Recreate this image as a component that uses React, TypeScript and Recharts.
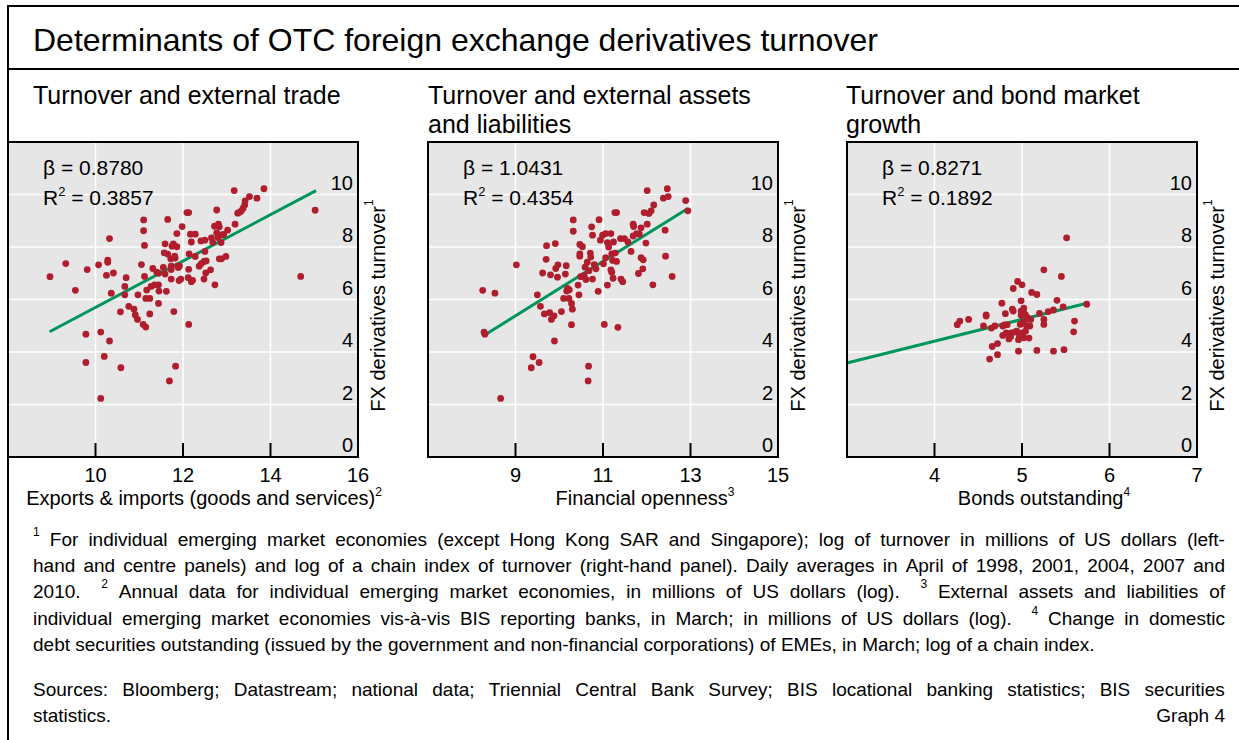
import React from 'react';
import { ScatterChart, Scatter, XAxis, YAxis, CartesianGrid, ReferenceLine, Label } from 'recharts';

const FONT = "'Liberation Sans', Arial, Helvetica, sans-serif";
const GRID_BG = '#e6e6e6';
const DOT = '#b01e2d';
const GREEN = '#00955a';

// ---------- data ----------
const tradeX = [8.96, 9.32, 9.54, 9.81, 9.78, 9.78, 10.07, 10.12, 10.12, 10.2, 10.32, 10.28, 10.28, 10.25, 10.41, 10.32, 10.36, 10.58, 10.57, 10.67, 10.67, 10.7, 10.76, 10.88, 10.91, 10.96, 10.97, 11.05, 11.1, 11.1, 11.12, 11.12, 11.09, 11.15, 11.15, 11.17, 11.24, 11.24, 11.27, 11.31, 11.35, 11.4, 11.44, 11.44, 11.44, 11.45, 11.55, 11.57, 11.59, 11.59, 11.62, 11.65, 11.65, 11.69, 11.72, 11.73, 11.73, 11.73, 11.75, 11.78, 11.79, 11.81, 11.82, 11.83, 11.86, 11.86, 11.88, 11.89, 11.92, 11.91, 11.95, 11.98, 12.09, 12.13, 12.13, 12.12, 12.13, 12.14, 12.17, 12.19, 12.19, 12.22, 12.28, 12.28, 12.37, 12.41, 12.42, 12.48, 12.48, 12.5, 12.5, 12.52, 12.53, 12.63, 12.65, 12.68, 12.72, 12.73, 12.77, 12.77, 12.8, 12.81, 12.83, 12.83, 12.87, 12.88, 12.9, 12.93, 12.98, 13.02, 13.17, 13.19, 13.25, 13.29, 13.33, 13.37, 13.41, 13.42, 13.52, 13.69, 13.85, 14.69, 15.02];
const tradeY = [6.87, 7.37, 6.35, 7.14, 4.68, 3.6, 7.32, 4.76, 2.23, 3.83, 8.32, 7.5, 7.42, 6.92, 7.01, 4.42, 6.24, 3.4, 5.53, 6.5, 6.18, 6.83, 5.74, 5.63, 5.41, 5.24, 6.18, 7.33, 9.03, 8.62, 8.06, 6.88, 5.05, 4.95, 6.04, 6.36, 6.04, 5.45, 6.5, 7.18, 6.56, 7.04, 7.0, 5.85, 6.56, 6.32, 7.22, 7.78, 8.12, 6.97, 6.31, 9.05, 7.73, 2.9, 7.55, 7.27, 6.78, 7.14, 8.03, 8.12, 5.54, 7.65, 7.58, 3.46, 8.51, 8.01, 7.28, 7.22, 7.28, 6.72, 6.78, 8.78, 9.31, 9.31, 7.15, 6.83, 5.05, 7.74, 8.49, 8.19, 6.68, 6.73, 8.49, 7.64, 7.27, 8.23, 7.37, 7.45, 6.78, 7.83, 8.26, 7.01, 7.47, 7.13, 8.35, 8.18, 8.79, 6.56, 9.41, 8.54, 8.36, 8.87, 8.77, 7.55, 8.17, 7.55, 8.47, 8.47, 7.64, 8.64, 10.15, 8.87, 9.29, 9.32, 9.37, 9.47, 9.6, 9.76, 9.92, 9.86, 10.22, 6.88, 9.4];
const tradeFitX = [8.95, 15.04];
const tradeFitY = [4.77, 10.15];

const openX = [8.25, 8.53, 8.28, 8.3, 8.66, 9.02, 9.36, 9.4, 9.54, 9.5, 9.57, 9.62, 9.66, 9.7, 9.71, 9.78, 9.8, 9.82, 9.88, 9.89, 9.91, 9.92, 9.96, 9.97, 10.05, 10.1, 10.14, 10.16, 10.17, 10.19, 10.22, 10.23, 10.28, 10.3, 10.28, 10.32, 10.32, 10.43, 10.45, 10.47, 10.47, 10.47, 10.53, 10.49, 10.57, 10.59, 10.61, 10.64, 10.67, 10.66, 10.68, 10.71, 10.72, 10.74, 10.76, 10.76, 10.8, 10.84, 10.89, 10.91, 10.94, 10.99, 11.01, 11.03, 11.06, 11.06, 11.1, 11.1, 11.13, 11.18, 11.18, 11.2, 11.2, 11.22, 11.24, 11.23, 11.27, 11.31, 11.28, 11.31, 11.34, 11.4, 11.41, 11.45, 11.49, 11.57, 11.64, 11.69, 11.7, 11.69, 11.77, 11.81, 11.83, 11.87, 11.87, 11.91, 11.92, 11.94, 11.98, 12.01, 12.01, 12.05, 12.1, 12.14, 12.16, 12.38, 12.42, 12.43, 12.47, 12.49, 12.58, 12.89, 12.94];
const openY = [6.35, 6.24, 4.76, 4.68, 2.23, 7.32, 3.4, 3.82, 3.6, 6.18, 5.74, 7.01, 5.45, 7.53, 8.05, 5.5, 6.94, 5.24, 5.38, 4.42, 8.13, 7.18, 6.85, 7.32, 5.54, 6.04, 6.97, 7.29, 6.32, 6.42, 6.04, 6.37, 5.85, 5.63, 5.04, 9.03, 8.6, 6.55, 6.18, 7.74, 7.65, 8.1, 8.01, 6.87, 6.91, 7.23, 6.76, 7.42, 3.46, 2.9, 7.1, 7.77, 7.62, 8.77, 8.45, 6.78, 7.33, 7.17, 6.31, 9.04, 8.26, 8.45, 7.36, 5.05, 8.51, 7.59, 6.55, 8.17, 8.0, 8.51, 7.13, 7.04, 7.74, 7.49, 8.19, 6.81, 9.31, 9.31, 7.77, 7.45, 4.94, 8.32, 6.78, 6.68, 8.32, 8.19, 7.83, 8.87, 8.78, 8.42, 8.51, 6.99, 8.49, 8.73, 7.59, 7.17, 7.51, 9.31, 8.15, 10.15, 8.87, 9.28, 9.38, 6.56, 9.6, 9.86, 8.64, 7.65, 10.22, 9.92, 6.88, 9.77, 9.38];
const openFitX = [8.25, 12.94];
const openFitY = [4.6, 9.47];

const bondX = [4.26, 4.29, 4.39, 4.56, 4.59, 4.59, 4.63, 4.65, 4.66, 4.69, 4.72, 4.72, 4.77, 4.78, 4.78, 4.8, 4.81, 4.82, 4.83, 4.85, 4.87, 4.89, 4.9, 4.9, 4.88, 4.92, 4.94, 4.95, 4.96, 4.96, 4.97, 4.98, 4.99, 4.99, 4.99, 5.0, 5.0, 5.01, 5.02, 5.02, 5.02, 5.04, 5.04, 5.05, 5.06, 5.07, 5.08, 5.09, 5.1, 5.11, 5.17, 5.17, 5.2, 5.25, 5.25, 5.25, 5.3, 5.36, 5.36, 5.4, 5.45, 5.47, 5.48, 5.51, 5.6, 5.59, 5.74];
const bondY = [5.04, 5.18, 5.24, 4.99, 5.41, 5.37, 3.73, 4.91, 4.21, 4.99, 3.9, 4.32, 5.86, 4.99, 4.63, 5.03, 5.46, 4.73, 5.04, 4.5, 4.58, 5.63, 6.42, 5.56, 4.73, 4.76, 4.79, 6.69, 4.47, 4.03, 4.6, 5.05, 5.95, 5.56, 5.4, 6.56, 4.73, 5.14, 5.67, 4.54, 5.5, 5.41, 4.79, 5.01, 5.31, 5.27, 4.53, 4.99, 5.24, 6.27, 6.19, 4.06, 5.47, 5.24, 5.05, 7.13, 5.54, 5.6, 4.03, 5.97, 6.88, 5.72, 4.09, 8.35, 5.18, 4.77, 5.82];
const bondFitX = [3.0, 5.74];
const bondFitY = [3.58, 5.86];

const yTicks = [0, 2, 4, 6, 8, 10];
const yDomain = [0, 12];
const tradeTicks = [10, 12, 14, 16];
const tradeDomain = [8, 16];
const openTicks = [9, 11, 13, 15];
const openDomain = [7, 15];
const bondTicks = [4, 5, 6, 7];
const bondDomain = [3, 7];

const panelTitles = [['Turnover and external trade'], ['Turnover and external assets', 'and liabilities'], ['Turnover and bond market', 'growth']];
const xLabels = ['Exports & imports (goods and services)', 'Financial openness', 'Bonds outstanding'];
const xLabelSups = ['2', '3', '4'];
const betas = ['0.8780', '1.0431', '0.8271'];
const r2s = ['0.3857', '0.4354', '0.1892'];
const yLabel = 'FX derivatives turnover';

const title = 'Determinants of OTC foreign exchange derivatives turnover';
const notes = [
  { t: '^1 For individual emerging market economies (except Hong Kong SAR and Singapore); log of turnover in millions of US dollars (left-', j: true },
  { t: 'hand and centre panels) and log of a chain index of turnover (right-hand panel). Daily averages in April of 1998, 2001, 2004, 2007 and', j: true },
  { t: '2010. ^2 Annual data for individual emerging market economies, in millions of US dollars (log). ^3 External assets and liabilities of', j: true },
  { t: 'individual emerging market economies vis-à-vis BIS reporting banks, in March; in millions of US dollars (log). ^4 Change in domestic', j: true },
  { t: 'debt securities outstanding (issued by the government and non-financial corporations) of EMEs, in March; log of a chain index.', j: false },
];
const sources = 'Sources: Bloomberg; Datastream; national data; Triennial Central Bank Survey; BIS locational banking statistics; BIS securities';
const sourcesEnd = 'statistics.';
const graphNo = 'Graph 4';

// ---------- layout ----------
const PLOT_TOP = 142;
const PLOT_W = 350;
const PLOT_H = 315;
const PAD = 2;
const YW = 45;
const XH = 62;

const XTick = (props: any) => {
  const { x, payload, isLast } = props;
  const y0 = PAD + PLOT_H;
  return (
    <g>
      {!isLast && <line x1={x} x2={x} y1={y0} y2={y0 - 14} stroke="#000" strokeWidth={2} />}
      <text x={x} y={y0 + 25} textAnchor="middle" fontSize={20} fontFamily={FONT} fill="#000">{payload.value}</text>
    </g>
  );
};

const YTick = (props: any) => {
  const { y, payload } = props;
  return (
    <text x={PAD + PLOT_W - 5} y={y - 5} textAnchor="end" fontSize={20} fontFamily={FONT} fill="#000">{payload.value}</text>
  );
};

function Panel(props: any) {
  const { idx, left, xs, ys, fitX, fitY, domain, ticks, labelCenter } = props;
  const data = xs.map((x: number, i: number) => ({ x, y: ys[i] }));
  const W = PAD + PLOT_W + YW;
  const H = PAD + PLOT_H + XH;
  const lastTick = ticks[ticks.length - 1];
  const lx = labelCenter - left + PAD;
  const ycx = PAD + PLOT_W + 20;
  const ycy = PAD + PLOT_H / 2 + 6;
  return (
    <>
      <div style={{ position: 'absolute', left: left - PAD, top: PLOT_TOP - PAD }}>
        <ScatterChart width={W} height={H} margin={{ top: PAD, left: PAD, right: 0, bottom: 0 }}>
          <CartesianGrid fill={GRID_BG} fillOpacity={1} stroke="#ffffff" strokeWidth={1.5} />
          <XAxis
            type="number"
            dataKey="x"
            domain={domain}
            ticks={ticks}
            interval={0}
            allowDataOverflow
            height={XH}
            axisLine={false}
            tickLine={false}
            tickSize={0}
            tickMargin={0}
            tick={(p: any) => <XTick {...p} isLast={p.payload.value === lastTick} />}
          >
            <Label
              content={() => (
                <text x={lx} y={PAD + PLOT_H + 48} textAnchor="middle" fontSize={20} fontFamily={FONT} fill="#000">
                  {xLabels[idx]}
                  <tspan dy={-9} fontSize={12}>{xLabelSups[idx]}</tspan>
                </text>
              )}
            />
          </XAxis>
          <YAxis
            type="number"
            dataKey="y"
            orientation="right"
            domain={yDomain}
            ticks={yTicks}
            interval={0}
            allowDataOverflow
            width={YW}
            axisLine={false}
            tickLine={false}
            tickSize={0}
            tickMargin={0}
            tick={(p: any) => <YTick {...p} />}
          >
            <Label
              content={() => (
                <text
                  x={ycx}
                  y={ycy}
                  transform={`rotate(-90 ${ycx} ${ycy})`}
                  textAnchor="middle"
                  dominantBaseline="central"
                  fontSize={20}
                  fontFamily={FONT}
                  fill="#000"
                >
                  {yLabel}
                  <tspan dy={-9} fontSize={12}>1</tspan>
                </text>
              )}
            />
          </YAxis>
          <Scatter
            data={data}
            isAnimationActive={false}
            shape={(p: any) => <circle cx={p.cx} cy={p.cy} r={3.4} fill={DOT} />}
          />
          <ReferenceLine
            segment={[{ x: fitX[0], y: fitY[0] }, { x: fitX[1], y: fitY[1] }]}
            stroke={GREEN}
            strokeWidth={3}
            ifOverflow="visible"
          />
        </ScatterChart>
      </div>
      <div
        style={{
          position: 'absolute',
          left: left - 1,
          top: PLOT_TOP - 1,
          width: PLOT_W + 2,
          height: PLOT_H + 2,
          border: '2px solid #000',
          boxSizing: 'border-box',
          pointerEvents: 'none',
        }}
      />
      <div style={{ position: 'absolute', left: left + 35, top: 153, fontSize: 21, lineHeight: '30px', fontFamily: FONT, color: '#000', whiteSpace: 'nowrap' }}>
        <div>β = {betas[idx]}</div>
        <div>
          R<span style={{ fontSize: 13, position: 'relative', top: -9 }}>2</span> = {r2s[idx]}
        </div>
      </div>
      <div style={{ position: 'absolute', left: props.titleLeft, top: 81, fontSize: 25, lineHeight: '29px', fontFamily: FONT, color: '#000', whiteSpace: 'nowrap' }}>
        {panelTitles[idx].map((t: string, i: number) => (
          <div key={i}>{t}</div>
        ))}
      </div>
    </>
  );
}

function renderWord(w: string, i: number, first: boolean) {
  if (w.startsWith('^')) {
    return (
      <span key={i} style={{ fontSize: 12, position: 'relative', top: -8, marginLeft: first ? 0 : 10 }}>
        {w.slice(1)}
      </span>
    );
  }
  return <span key={i}>{w}</span>;
}

function NoteLine({ text, justify, top }: { text: string; justify: boolean; top: number }) {
  const words = text.split(' ').filter((w) => w.length > 0);
  const base: React.CSSProperties = {
    position: 'absolute',
    left: 33,
    top,
    width: 1192,
    fontSize: 19,
    lineHeight: '26px',
    fontFamily: FONT,
    color: '#000',
    whiteSpace: 'nowrap',
  };
  if (justify) {
    return (
      <div style={{ ...base, display: 'flex', justifyContent: 'space-between' }}>
        {words.map((w, i) => renderWord(w, i, i === 0))}
      </div>
    );
  }
  return (
    <div style={base}>
      {words.map((w, i) => (
        <React.Fragment key={i}>
          {i > 0 ? ' ' : ''}
          {renderWord(w, i, true)}
        </React.Fragment>
      ))}
    </div>
  );
}

export default function App() {
  const noteTops = [527, 553, 579, 606, 632];
  return (
    <div style={{ position: 'absolute', left: 0, top: 0, width: 1239, height: 740, background: '#fff', overflow: 'hidden', fontFamily: FONT }}>
      {/* frame */}
      <div style={{ position: 'absolute', left: 7, top: 5, width: 2, height: 735, background: '#000' }} />
      <div style={{ position: 'absolute', left: 7, top: 5, width: 1232, height: 2, background: '#000' }} />
      <div style={{ position: 'absolute', left: 7, top: 68, width: 1232, height: 2, background: '#000' }} />
      <div style={{ position: 'absolute', left: 33, top: 20, fontSize: 32, lineHeight: '40px', color: '#000', whiteSpace: 'nowrap' }}>{title}</div>

      <Panel idx={0} left={8} titleLeft={33} xs={tradeX} ys={tradeY} fitX={tradeFitX} fitY={tradeFitY} domain={tradeDomain} ticks={tradeTicks} labelCenter={204} />
      <Panel idx={1} left={428} titleLeft={428} xs={openX} ys={openY} fitX={openFitX} fitY={openFitY} domain={openDomain} ticks={openTicks} labelCenter={645} />
      <Panel idx={2} left={847} titleLeft={846} xs={bondX} ys={bondY} fitX={bondFitX} fitY={bondFitY} domain={bondDomain} ticks={bondTicks} labelCenter={1044} />

      {notes.map((n, i) => (
        <NoteLine key={i} text={n.t} justify={n.j} top={noteTops[i]} />
      ))}
      <NoteLine text={sources} justify={true} top={677} />
      <div style={{ position: 'absolute', left: 33, top: 703, width: 1192, fontSize: 19, lineHeight: '26px', color: '#000', display: 'flex', justifyContent: 'space-between' }}>
        <span>{sourcesEnd}</span>
        <span>{graphNo}</span>
      </div>
    </div>
  );
}
